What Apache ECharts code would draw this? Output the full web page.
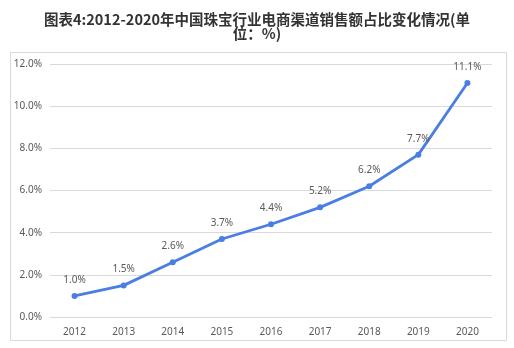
<!DOCTYPE html>
<html><head><meta charset="utf-8">
<script src="https://cdn.jsdelivr.net/npm/echarts@6/dist/echarts.min.js"></script>
<style>html,body{margin:0;padding:0;background:#fff}#c{width:514px;height:348px}</style>
</head><body><div id="c"></div>
<script>
var years = ['2012','2013','2014','2015','2016','2017','2018','2019','2020'];
var share = [1.0, 1.5, 2.6, 3.7, 4.4, 5.2, 6.2, 7.7, 11.1];
var chart = echarts.init(document.getElementById('c'));
chart.setOption({
  animation: false,
  title: {
    text: '图表4:2012-2020年中国珠宝行业电商渠道销售额占比变化情况(单\n位：%)',
    left: 'center', top: 7,
    textStyle: {fontFamily: 'Noto Sans CJK SC', fontSize: 14.5, fontWeight: 'bold', color: '#333', lineHeight: 14}
  },
  graphic: [{type: 'rect', shape: {x: 10.5, y: 52.5, width: 496, height: 288}, style: {fill: 'none', stroke: '#d9d9d9', lineWidth: 1}}],
  grid: {left: 50, right: 22, top: 64, bottom: 31},
  xAxis: {
    type: 'category', data: years, boundaryGap: true,
    axisLine: {show: false}, axisTick: {show: false},
    axisLabel: {color: '#595959', fontSize: 10, margin: 10, fontFamily: 'Noto Sans'}
  },
  yAxis: {
    type: 'value', min: 0, max: 12, interval: 2,
    axisLabel: {formatter: function(v){return v.toFixed(1)+'%';}, color: '#595959', fontSize: 10, margin: 8, fontFamily: 'Noto Sans'},
    splitLine: {lineStyle: {color: '#d9d9d9'}},
    axisLine: {show: false}, axisTick: {show: false}
  },
  series: [{
    type: 'line', data: share, symbol: 'circle', symbolSize: 6,
    lineStyle: {color: '#4a7ee3', width: 2.8}, itemStyle: {color: '#4a7ee3'},
    label: {show: true, position: 'top', distance: 8, formatter: function(p){return p.value.toFixed(1)+'%';}, color: '#595959', fontSize: 10, fontFamily: 'Noto Sans'}
  }]
});
</script></body></html>
